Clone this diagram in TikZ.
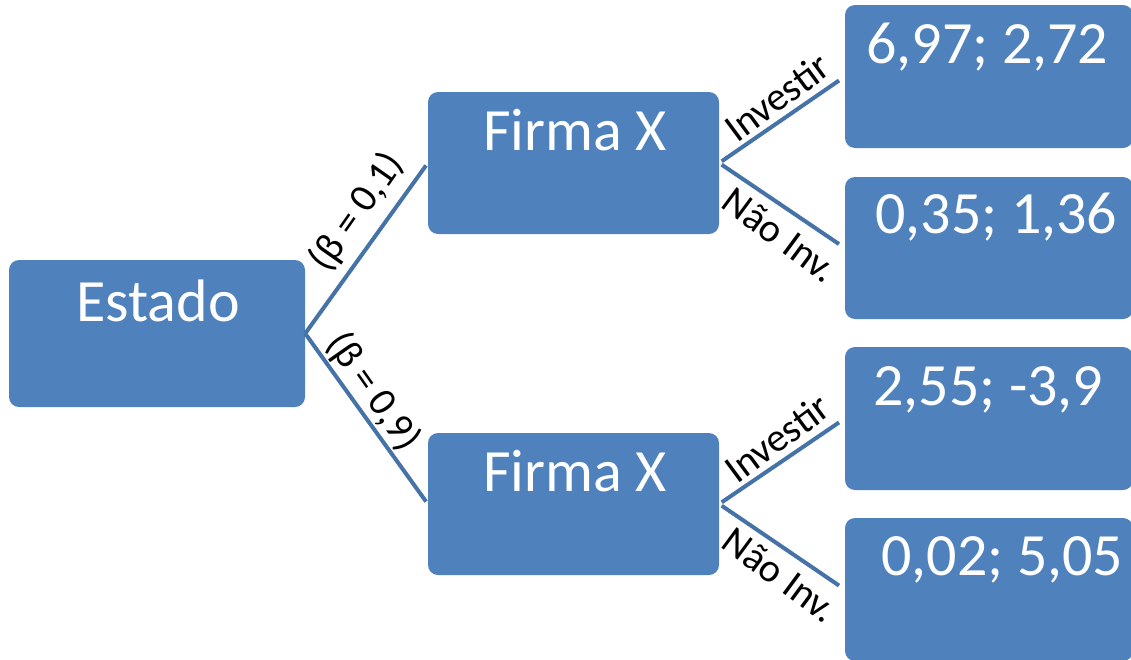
\documentclass[tikz,border=0pt]{standalone}
\usepackage{fontspec}
\setmainfont{Carlito}
\definecolor{boxblue}{HTML}{4F81BD}
\definecolor{lineblue}{HTML}{4572A7}
\begin{document}
\begin{tikzpicture}[x=1pt,y=-1pt,
  box/.style={rectangle, rounded corners=10pt, fill=boxblue, draw=none, inner sep=0pt},
  boxtxt/.style={text=white, inner sep=0pt, font=\fontsize{60}{70}\selectfont},
  conn/.style={draw=lineblue, line width=4pt},
  lbl/.style={inner sep=0pt, font=\fontsize{40}{48}\selectfont}]
\useasboundingbox (0,0) rectangle (1131,659);
\clip (0,0) rectangle (1131,659);
% boxes
\node[box, minimum width=296pt, minimum height=147pt] (estado) at (157,333.5) {};
\node[box, minimum width=291pt, minimum height=142pt] (f1) at (573.5,163) {};
\node[box, minimum width=291pt, minimum height=142pt] (f2) at (573.5,504) {};
\node[box, minimum width=288pt, minimum height=143pt] (p1) at (989,76.5) {};
\node[box, minimum width=288pt, minimum height=142pt] (p2) at (989,248) {};
\node[box, minimum width=288pt, minimum height=143pt] (p3) at (989,418.5) {};
\node[box, minimum width=288pt, minimum height=143pt] (p4) at (989,589.5) {};
% box texts
\node[boxtxt, anchor=base] (testado) at (158,321) {Estado};
\node[boxtxt, anchor=base] (tf1) at (575,150) {Firma X};
\node[boxtxt, anchor=base] (tf2) at (575,491) {Firma X};
\node[boxtxt, anchor=base west] (tp1) at (866,63) {6,97; 2,72};
\node[boxtxt, anchor=base west] (tp2) at (875,233) {0,35; 1,36};
\node[boxtxt, anchor=base west] (tp3) at (873,405) {2,55; -3,9};
\node[boxtxt, anchor=base west] (tp4) at (881,575) {0,02; 5,05};
% connectors
\draw[conn, shorten >=3pt] (estado.east) -- (f1.west);
\draw[conn, shorten >=3pt] (estado.east) -- (f2.west);
\draw[conn, shorten <=3pt, shorten >=7pt] (f1.east) -- (p1.west);
\draw[conn, shorten <=3pt, shorten >=7pt] (f1.east) -- (p2.west);
\draw[conn, shorten <=3pt, shorten >=7pt] (f2.east) -- (p3.west);
\draw[conn, shorten <=3pt, shorten >=7pt] (f2.east) -- (p4.west);
% labels
\node[lbl, rotate=55] (l1) at (357,212) {(β = 0,1)};
\node[lbl, rotate=-55] (l2) at (373,392) {(β = 0,9)};
\node[lbl, rotate=36.5] (l3) at (777,97) {Investir};
\node[lbl, rotate=-36.5] (l4) at (780,235) {Não Inv.};
\node[lbl, rotate=36.5] (l5) at (777,438) {Investir};
\node[lbl, rotate=-36.5] (l6) at (780,575) {Não Inv.};
\end{tikzpicture}
\end{document}
